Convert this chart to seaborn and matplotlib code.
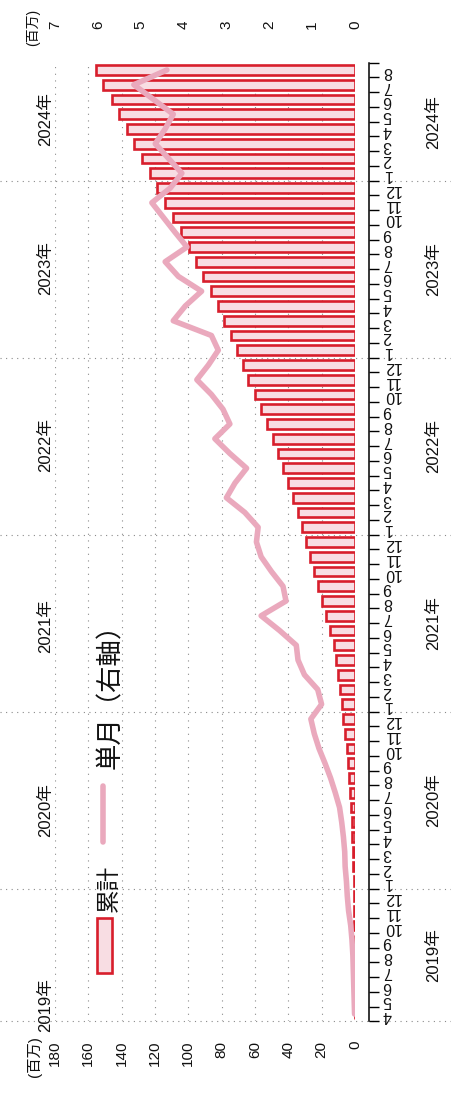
import numpy as np
import pandas as pd
import matplotlib
matplotlib.use("Agg")
import matplotlib.pyplot as plt
import seaborn as sns
from matplotlib.patches import Rectangle
from matplotlib.lines import Line2D
from matplotlib.transforms import blended_transform_factory

# ---------------- data (2019/4 .. 2024/8) ----------------
months_2019 = ["4", "5", "6", "7", "8", "9", "10", "11", "12"]
months_2020 = ["1", "2", "3", "4", "5", "6", "7", "8", "9", "10", "11", "12"]
months_2021 = ["1", "2", "3", "4", "5", "6", "7", "8", "9", "10", "11", "12"]
months_2022 = ["1", "2", "3", "4", "5", "6", "7", "8", "9", "10", "11", "12"]
months_2023 = ["1", "2", "3", "4", "5", "6", "7", "8", "9", "10", "11", "12"]
months_2024 = ["1", "2", "3", "4", "5", "6", "7", "8"]
month_labels = months_2019 + months_2020 + months_2021 + months_2022 + months_2023 + months_2024

cum_2019 = [0.02, 0.04, 0.07, 0.11, 0.16, 0.23, 0.33, 0.48, 0.66]
cum_2020 = [0.9, 1.15, 1.4, 1.7, 2.0, 2.4, 2.9, 3.6, 4.3, 5.1, 6.1, 7.2]
cum_2021 = [7.9, 8.8, 10.0, 11.3, 12.8, 14.8, 17.3, 19.6, 22.0, 24.6, 27.0, 29.6]
cum_2022 = [32.1, 34.4, 37.4, 40.4, 43.3, 46.3, 49.3, 52.6, 56.2, 60.2, 64.1, 67.5]
cum_2023 = [70.6, 74.4, 78.4, 82.5, 86.7, 91.2, 95.5, 99.8, 104.4, 109.4, 114.2, 118.7]
cum_2024 = [122.9, 127.7, 132.3, 137.1, 141.3, 146.0, 151.1, 155.2]
cumulative = cum_2019 + cum_2020 + cum_2021 + cum_2022 + cum_2023 + cum_2024

mon_2019 = [0.01, 0.02, 0.03, 0.04, 0.05, 0.07, 0.10, 0.15, 0.18]
mon_2020 = [0.20, 0.23, 0.24, 0.27, 0.31, 0.36, 0.46, 0.57, 0.70, 0.84, 0.95, 1.03]
mon_2021 = [0.78, 0.87, 1.18, 1.33, 1.37, 1.76, 2.19, 1.61, 1.68, 1.95, 2.19, 2.30]
mon_2022 = [2.26, 2.57, 3.00, 2.80, 2.53, 2.92, 3.27, 2.92, 3.08, 3.35, 3.69, 3.42]
mon_2023 = [3.19, 3.35, 4.24, 3.96, 3.58, 4.12, 4.43, 3.92, 4.20, 4.47, 4.74, 4.31]
mon_2024 = [4.04, 4.35, 4.66, 4.43, 4.24, 4.70, 5.16, 4.39]
monthly = mon_2019 + mon_2020 + mon_2021 + mon_2022 + mon_2023 + mon_2024

year_labels = ["2019年", "2020年", "2021年", "2022年", "2023年", "2024年"]
left_ticks = [0, 20, 40, 60, 80, 100, 120, 140, 160, 180]
right_ticks = [0, 1, 2, 3, 4, 5, 6, 7]
legend_cum = "累計"
legend_mon = "単月（右軸）"
unit_label = "(百万)"

# ---------------- style ----------------
BAR_FILL = "#f8dde3"
BAR_EDGE = "#d81e2c"
LINE_COL = "#eaa9bd"
GRID_COL = "#8a8a8a"

sns.set_theme(style="white")
plt.rcParams["font.family"] = ["Liberation Sans", "Noto Sans CJK JP", "DejaVu Sans"]

W, H = 452, 1093
def fx(px):
    return px / W
def fy(py):
    return (H - py) / H

fig = plt.figure(figsize=(W / 100, H / 100), dpi=100)
fig.patch.set_facecolor("white")
ax = fig.add_axes([fx(55), fy(1021.4), 300 / W, 958.8 / H])

n = len(cumulative)
df = pd.DataFrame({"idx": np.arange(n), "cum": cumulative, "monthly": monthly})

sns.barplot(data=df, x="cum", y="idx", orient="h", color=BAR_FILL, saturation=1,
            edgecolor=BAR_EDGE, linewidth=1.9, width=0.66, ax=ax, zorder=2)
ax.set_xlim(180, 0)
ax.set_ylim(-0.5, n - 0.5)
ax.set_xlabel("")
ax.set_ylabel("")
ax.set_facecolor("none")

# value axis (bottom, rotated chart)
ax.set_xticks(left_ticks)
ax.set_xticklabels([str(t) for t in left_ticks])
ax.tick_params(axis="x", which="major", bottom=True, top=False, length=0, pad=14,
               labelrotation=90, labelsize=11, labelcolor="#111111")
ax.grid(axis="x", color=GRID_COL, linestyle=(0, (1, 5)), linewidth=0.8)
ax.grid(axis="y", visible=False)
ax.set_axisbelow(True)

# category axis (right side)
ax.set_yticks(range(n))
ax.set_yticklabels(month_labels)
ax.set_yticks(np.arange(-0.5, n, 1.0), minor=True)
ax.tick_params(axis="y", which="both", left=False, right=True, labelleft=False,
               labelright=True)
ax.tick_params(axis="y", which="major", length=0, pad=10, labelsize=11.5,
               labelrotation=180, labelcolor="#111111")
ax.tick_params(axis="y", which="minor", length=7, width=1.0, color="black", direction="out")
for s in ["top", "left", "bottom"]:
    ax.spines[s].set_visible(False)
ax.spines["right"].set_visible(True)
ax.spines["right"].set_color("black")
ax.spines["right"].set_linewidth(1.1)
ax.spines["right"].set_position(("outward", 10))

# single month line on a twin value axis (top)
ax2 = ax.twiny()
sns.lineplot(data=df, x="monthly", y="idx", orient="y", color=LINE_COL, linewidth=4,
             ax=ax2, zorder=3)
ax2.set_xlim(7, 0)
ax2.set_ylim(-0.5, n - 0.5)
ax2.set_xlabel("")
ax2.set_ylabel("")
ax2.set_xticks(right_ticks)
ax2.set_xticklabels([str(t) for t in right_ticks])
ax2.tick_params(axis="x", which="major", top=True, bottom=False, labeltop=True,
                labelbottom=False, length=0, pad=24, labelrotation=90, labelsize=11,
                labelcolor="#111111")
ax2.grid(False)
for s in ax2.spines.values():
    s.set_visible(False)

# year separators and year labels
trans = blended_transform_factory(ax.transAxes, ax.transData)
year_bounds = [-0.5, 8.5, 20.5, 32.5, 44.5, 56.5]
for b in year_bounds:
    ax.add_line(Line2D([-0.183, 1.323], [b, b], transform=trans, color=GRID_COL,
                       linestyle=(0, (1, 4)), linewidth=0.8, clip_on=False, zorder=0.5))
year_centers = [4, 14.5, 26.5, 38.5, 50.5, 60.5]
year_centers_top = [0.6, 13.8, 26.3, 38.6, 50.6, 60.7]
for lbl, yc in zip(year_labels, year_centers):
    ax.text(1.262, yc, lbl, transform=trans, rotation=90, ha="center", va="center",
            fontsize=12, color="#111111", clip_on=False)
for lbl, yc in zip(year_labels, year_centers_top):
    ax.text(-0.033, yc, lbl, transform=trans, rotation=90, ha="center", va="center",
            fontsize=12, color="#111111", clip_on=False)

# unit labels
fig.text(fx(35), fy(1057), unit_label, rotation=90, ha="center", va="center",
         fontsize=11, color="#111111")
fig.text(fx(33), fy(27), unit_label, rotation=90, ha="center", va="center",
         fontsize=10, color="#111111")

# legend (rotated with the chart)
fig.add_artist(Rectangle((fx(97), fy(973)), 15 / W, 55 / H, transform=fig.transFigure,
                         facecolor=BAR_FILL, edgecolor=BAR_EDGE, linewidth=1.9))
fig.text(fx(110), fy(888), legend_cum, rotation=90, ha="center", va="center",
         fontsize=17, color="#111111")
fig.add_artist(Line2D([fx(103), fx(103)], [fy(842), fy(786)], transform=fig.transFigure,
                      color=LINE_COL, linewidth=4))
fig.text(fx(111), fy(690), legend_mon, rotation=90, ha="center", va="center",
         fontsize=19, color="#111111", family=["Noto Sans CJK JP", "DejaVu Sans"])

fig.savefig("out.png", dpi=100, facecolor="white")
